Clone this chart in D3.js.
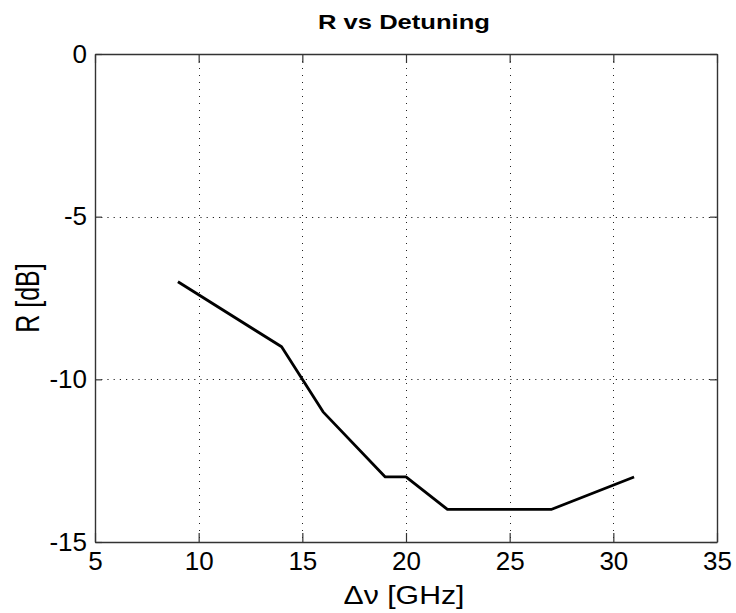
<!DOCTYPE html>
<html>
<head>
<meta charset="utf-8">
<script src="https://cdn.jsdelivr.net/npm/d3@7"></script>
<style>
  html, body { margin: 0; padding: 0; background: #fff; }
  svg { display: block; font-family: "Liberation Sans", Arial, sans-serif; }
</style>
</head>
<body>
<svg id="chart" width="736" height="613"></svg>
<script>
// Reflection vs detuning
const detuning = [9, 14, 16, 19, 20, 22, 27, 31];          // Δν [GHz]
const reflection = [-7, -9, -11, -13, -13, -14, -14, -13];  // R [dB]
const xTicks = [5, 10, 15, 20, 25, 30, 35];
const yTicks = [0, -5, -10, -15];

const svg = d3.select("#chart");
const margin = { left: 95, right: 19, top: 54, bottom: 71 };
const W = 736, H = 613;
const x = d3.scaleLinear().domain([5, 35]).range([margin.left, W - margin.right]);
const y = d3.scaleLinear().domain([-15, 0]).range([H - margin.bottom, margin.top]);

const x0 = x.range()[0], x1 = x.range()[1], y0 = y.range()[0], y1 = y.range()[1];
const fmt = d => String(d);   // plain hyphen-minus labels

// dotted grid
const grid = svg.append("g").attr("stroke", "#222").attr("stroke-width", 1);
xTicks.slice(1, -1).forEach(t => grid.append("line")
  .attr("stroke-dasharray", "1,6")
  .attr("x1", Math.round(x(t)) + 0.5).attr("x2", Math.round(x(t)) + 0.5)
  .attr("y1", y1).attr("y2", y0));
yTicks.slice(1, -1).forEach(t => grid.append("line")
  .attr("stroke-dasharray", "1.2,5")
  .attr("y1", Math.round(y(t)) + 0.5).attr("y2", Math.round(y(t)) + 0.5)
  .attr("x1", x0).attr("x2", x1));

// axes with inward ticks on all four sides
const axB = svg.append("g").attr("transform", `translate(0,${y0})`)
  .call(d3.axisBottom(x).tickValues(xTicks).tickFormat(fmt).tickSizeInner(-9).tickSizeOuter(0).tickPadding(10));
const axT = svg.append("g").attr("transform", `translate(0,${y1})`)
  .call(d3.axisTop(x).tickValues(xTicks).tickSizeInner(-9).tickSizeOuter(0).tickFormat(""));
const axL = svg.append("g").attr("transform", `translate(${x0},0)`)
  .call(d3.axisLeft(y).tickValues(yTicks).tickFormat(fmt).tickSizeInner(-7).tickSizeOuter(0).tickPadding(8));
const axR = svg.append("g").attr("transform", `translate(${x1},0)`)
  .call(d3.axisRight(y).tickValues(yTicks).tickSizeInner(-7).tickSizeOuter(0).tickFormat(""));

[axB, axT, axL, axR].forEach(a => {
  a.select(".domain").attr("stroke", "#333").attr("stroke-width", 1.4);
  a.selectAll(".tick line").attr("stroke", "#333").attr("stroke-width", 1.2);
  a.selectAll("text").attr("fill", "#000").style("font-size", "26px")
    .style("font-family", "'Liberation Sans', Arial, sans-serif");
});

// data curve
svg.append("path")
  .datum(detuning.map((d, i) => [d, reflection[i]]))
  .attr("fill", "none").attr("stroke", "#000").attr("stroke-width", 2.8)
  .attr("stroke-linejoin", "round")
  .attr("d", d3.line().x(d => x(d[0])).y(d => y(d[1])));

// title and axis labels (wide lettering)
svg.append("text").attr("x", 404).attr("y", 29)
  .attr("text-anchor", "middle").style("font-size", "20.5px").style("font-weight", "bold")
  .attr("textLength", 172).attr("lengthAdjust", "spacingAndGlyphs")
  .text("R vs Detuning");
svg.append("text").attr("x", 404).attr("y", 604)
  .attr("text-anchor", "middle").style("font-size", "25px")
  .attr("textLength", 121).attr("lengthAdjust", "spacingAndGlyphs")
  .text("Δν [GHz]");
svg.append("text").attr("transform", `translate(38.5,${(y0 + y1) / 2}) scale(1.3,1) rotate(-90)`)
  .attr("text-anchor", "middle").style("font-size", "25px")
  .text("R [dB]");
</script>
</body>
</html>
